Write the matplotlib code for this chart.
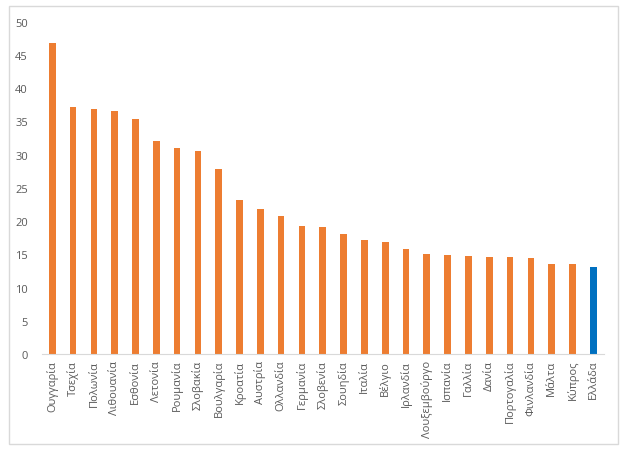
import matplotlib.pyplot as plt
import matplotlib.patches as patches

# data
countries = ['Ουγγαρία', 'Τσεχία', 'Πολωνία', 'Λιθουανία', 'Εσθονία', 'Λετονία',
             'Ρουμανία', 'Σλοβακία', 'Βουλγαρία', 'Κροατία', 'Αυστρία', 'Ολλανδία',
             'Γερμανία', 'Σλοβενία', 'Σουηδία', 'Ιταλία', 'Βέλγιο', 'Ιρλανδία',
             'Λουξεμβούργο', 'Ισπανία', 'Γαλλία', 'Δανία', 'Πορτογαλία', 'Φινλανδία',
             'Μάλτα', 'Κύπρος', 'Ελλάδα']
values = [46.8, 37.2, 36.9, 36.6, 35.3, 32.1, 31.0, 30.5, 27.8, 23.2, 21.8, 20.8,
          19.3, 19.2, 18.1, 17.1, 16.9, 15.8, 15.1, 14.9, 14.7, 14.6, 14.6, 14.4,
          13.6, 13.5, 13.1]
highlight = 'Ελλάδα'
y_ticks = [0, 5, 10, 15, 20, 25, 30, 35, 40, 45, 50]

plt.rcParams['font.family'] = ['Open Sans', 'DejaVu Sans']

fig = plt.figure(figsize=(6.27, 4.52), dpi=100)

# light frame around the chart
fig.patches.append(patches.Rectangle((9 / 627, 1 - 445 / 452), 609 / 627, 438 / 452,
                                     transform=fig.transFigure, fill=False,
                                     edgecolor='#d9d9d9', linewidth=1))

ax = fig.add_axes([0.0668, 0.214, 0.896, 0.736])

colors = ['#0070c0' if c == highlight else '#ed7d31' for c in countries]
x = range(len(countries))
ax.bar(x, values, width=0.32, color=colors)

ax.set_xlim(-0.5, len(countries) - 0.5)
ax.set_ylim(0, 50)
ax.set_yticks(y_ticks)
ax.set_xticks(list(x))
ax.set_xticklabels(countries, rotation=90)

for s in ['top', 'right', 'left']:
    ax.spines[s].set_visible(False)
ax.spines['bottom'].set_color('#d9d9d9')
ax.tick_params(axis='both', length=0, colors='#595959', labelsize=8)
ax.tick_params(axis='y', pad=10)
ax.tick_params(axis='x', pad=4)

fig.savefig('out.png', dpi=100)
